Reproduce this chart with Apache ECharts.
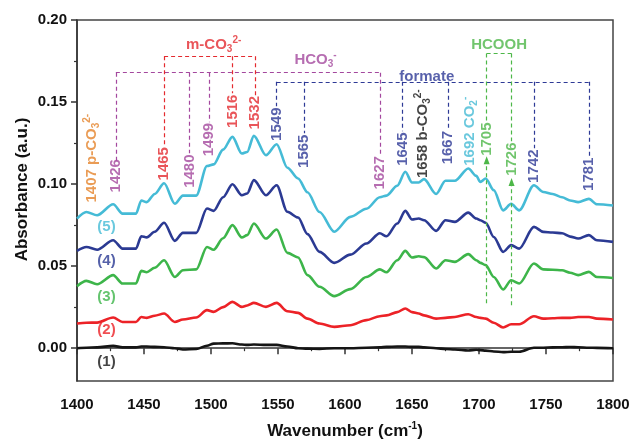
<!DOCTYPE html>
<html>
<head>
<meta charset="utf-8">
<script src="https://cdn.jsdelivr.net/npm/echarts@6/dist/echarts.min.js"></script>
<style>
  html, body { margin: 0; padding: 0; background: #fff; }
  #chart { width: 633px; height: 439px; }
</style>
</head>
<body>
<div id="chart"></div>
<script>
// wavenumber grid (cm-1) shared by all five spectra
const wavenumbers = [
  1400, 1407, 1415, 1427, 1434, 1444, 1448, 1452, 1458, 1465,
  1473, 1479, 1489, 1497, 1502, 1509, 1516, 1523, 1527, 1532,
  1541, 1549, 1557, 1565, 1572, 1581, 1592, 1604, 1616, 1626,
  1631, 1639, 1645, 1650, 1655, 1659, 1668, 1675, 1682, 1692,
  1698, 1701, 1705, 1711, 1718, 1724, 1730, 1741, 1748, 1755,
  1762, 1768, 1774, 1782, 1788, 1800,
];

const spec1 = [
  0, 0.0003, 0.0005, 0.0014, 0.0005, 0.0005, 0.001, 0.001, 0.0008, 0.0006,
  0, -0.0008, -0.0005, 0.0015, 0.0028, 0.0029, 0.003, 0.0022, 0.002, 0.0022,
  0.002, 0.002, 0.001, 0, -0.0003, -0.0004, 0, 0, 0.0003, 0.0005,
  0.0008, 0.001, 0.001, 0.0008, 0.0008, 0.0005, 0, -0.0005, -0.0008, -0.0014,
  -0.001, -0.0012, -0.0015, -0.002, -0.0024, -0.0022, -0.0022, 0.0003, 0.0003, 0.0005,
  0.0006, 0.0007, 0.0006, 0.0003, 0.0002, 0,
];
const spec2 = [
  0.015, 0.0155, 0.0156, 0.0187, 0.016, 0.016, 0.019, 0.0185, 0.0198, 0.0211,
  0.016, 0.0175, 0.0187, 0.0232, 0.0221, 0.025, 0.0282, 0.0252, 0.026, 0.0276,
  0.0252, 0.0276, 0.0225, 0.0215, 0.018, 0.015, 0.013, 0.014, 0.0171, 0.0195,
  0.020, 0.022, 0.0242, 0.022, 0.0211, 0.020, 0.018, 0.0185, 0.019, 0.0207,
  0.019, 0.0185, 0.018, 0.0155, 0.0126, 0.0146, 0.0146, 0.0195, 0.018, 0.0182,
  0.0185, 0.0185, 0.019, 0.019, 0.018, 0.0175,
];
const spec3 = [
  0.0378, 0.041, 0.039, 0.0445, 0.0394, 0.0394, 0.0471, 0.0463, 0.049, 0.0536,
  0.0434, 0.0475, 0.048, 0.0617, 0.060, 0.067, 0.075, 0.0675, 0.0689, 0.076,
  0.0668, 0.0723, 0.0581, 0.0553, 0.0445, 0.0374, 0.0317, 0.036, 0.0434, 0.048,
  0.0463, 0.0536, 0.0593, 0.0553, 0.056, 0.0555, 0.0486, 0.0536, 0.0526, 0.0573,
  0.0536, 0.052, 0.0506, 0.0434, 0.0358, 0.0414, 0.0394, 0.0516, 0.048, 0.0478,
  0.0475, 0.046, 0.0445, 0.0465, 0.0434, 0.0428,
];
const spec4 = [
  0.0593, 0.0617, 0.060, 0.0658, 0.0607, 0.0607, 0.0682, 0.0675, 0.071, 0.0764,
  0.0654, 0.0703, 0.0703, 0.0851, 0.0837, 0.092, 0.0999, 0.0932, 0.0943, 0.1024,
  0.0932, 0.0993, 0.0831, 0.0796, 0.0695, 0.0587, 0.052, 0.057, 0.0638, 0.070,
  0.0682, 0.076, 0.0837, 0.0784, 0.079, 0.078, 0.0715, 0.078, 0.077, 0.0826,
  0.079, 0.078, 0.0764, 0.0678, 0.0587, 0.0628, 0.0607, 0.0739, 0.0709, 0.0705,
  0.070, 0.068, 0.0668, 0.0689, 0.0658, 0.0648,
];
const spec5 = [
  0.079, 0.083, 0.081, 0.0877, 0.082, 0.082, 0.090, 0.089, 0.094, 0.1005,
  0.088, 0.093, 0.093, 0.111, 0.112, 0.121, 0.1288, 0.1186, 0.1196, 0.1294,
  0.1176, 0.1243, 0.110, 0.1034, 0.095, 0.083, 0.071, 0.080, 0.085, 0.092,
  0.093, 0.099, 0.1075, 0.101, 0.101, 0.103, 0.094, 0.102, 0.102, 0.1095,
  0.105, 0.1013, 0.1034, 0.0963, 0.084, 0.088, 0.084, 0.0993, 0.0952, 0.094,
  0.092, 0.090, 0.089, 0.091, 0.0877, 0.087,
];

const curveNames = ['(1)', '(2)', '(3)', '(4)', '(5)'];
const curveLabelX = 1422;
const curveLabelY = [-0.0083, 0.0114, 0.0313, 0.053, 0.0739];

// peak assignments (rotated labels)
const peakWn = [1411, 1429, 1465, 1484, 1498.5, 1516, 1533, 1549, 1569.6, 1626,
  1643, 1658, 1677, 1693, 1705.7, 1724.3, 1741.3, 1782.3];
const peakText = ['1407 p-CO{sub|3}{sup|2-}', '1426', '1465', '1480', '1499', '1516', '1532',
  '1549', '1565', '1627', '1645', '1658 b-CO{sub|3}{sup|2-}', '1667', '1692 CO{sub|2}{sup|-}',
  '1705', '1726', '1742', '1781'];
const peakGroup = ['p', 'hco3', 'm', 'hco3', 'hco3', 'm', 'm', 'formate', 'formate', 'hco3',
  'formate', 'b', 'formate', 'co2', 'hcooh', 'hcooh', 'formate', 'formate'];
const peakMid = [0.1158, 0.1051, 0.1124, 0.1079, 0.1271, 0.1444, 0.1435, 0.1365, 0.120, 0.1069,
  0.1213, 0.1307, 0.1222, 0.1322, 0.1274, 0.1152, 0.1109, 0.106];

// dashed brackets grouping the peaks
const bracketGroup = ['hco3', 'm', 'formate', 'hcooh'];
const bracketLevel = [0.1679, 0.1779, 0.1623, 0.1796];
const bracketPeaks = [
  [1429, 1484, 1498.5, 1626],
  [1465, 1516, 1533],
  [1549, 1569.6, 1643, 1677, 1741.3, 1782.3],
  [1705.7, 1724.3],
];
const bracketEnds = [
  [0.114, 0.1188, 0.1377, 0.1176],
  [0.1237, 0.1554, 0.1542],
  [0.1475, 0.131, 0.1322, 0.1328, 0.1219, 0.117],
  [0.1383, 0.1261],
];
const bracketTitle = ['HCO{sub|3}{sup|-}', 'm-CO{sub|3}{sup|2-}', 'formate', 'HCOOH'];
const bracketTitleX = [1578, 1502, 1661, 1715];
const bracketTitleY = [0.1755, 0.185, 0.1655, 0.185];

// HCOOH arrows
const arrowWn = [1705.7, 1724.3];
const arrowFrom = [0.0274, 0.0262];
const arrowTo = [0.1146, 0.1012];

const FONT = '"Liberation Sans", Arial, sans-serif';
const curveColors = ['#151515', '#EC2227', '#3DB54A', '#2B3A93', '#45BBD6'];
const groupColor = {
  p: '#E5832B', hco3: '#A4489E', m: '#E42A2F', formate: '#2E3A96',
  b: '#151515', co2: '#45BAD5', hcooh: '#4DB748',
};
const richSub = {
  sub: { fontSize: 10, fontWeight: 'bold', fontFamily: FONT, verticalAlign: 'bottom', lineHeight: 19 },
  sup: { fontSize: 10, fontWeight: 'bold', fontFamily: FONT, verticalAlign: 'top', lineHeight: 19 },
};

const chart = echarts.init(document.getElementById('chart'));

const spectra = [spec1, spec2, spec3, spec4, spec5];
const lineSeries = spectra.map((s, k) => ({
  name: curveNames[k],
  type: 'line',
  data: wavenumbers.map((w, i) => [w, s[i]]),
  showSymbol: false,
  symbol: 'none',
  smooth: 0.3,
  smoothMonotone: 'x',
  lineStyle: { width: 2.6, color: curveColors[k] },
  z: 3,
}));

function dashStyle(color) {
  return { type: [4, 3], width: 1.2, color: color };
}

const markLines = [];
bracketPeaks.forEach((xs, b) => {
  const c = groupColor[bracketGroup[b]];
  const lvl = bracketLevel[b];
  markLines.push([{ coord: [xs[0], lvl], lineStyle: dashStyle(c) }, { coord: [xs[xs.length - 1], lvl] }]);
  xs.forEach((x, j) => {
    markLines.push([{ coord: [x, lvl], lineStyle: dashStyle(c) }, { coord: [x, bracketEnds[b][j]] }]);
  });
});
arrowWn.forEach((x, j) => {
  markLines.push([
    { coord: [x, arrowFrom[j]], symbol: 'none', lineStyle: dashStyle(groupColor.hcooh) },
    { coord: [x, arrowTo[j]], symbol: 'triangle', symbolSize: [6, 8] },
  ]);
});

const annotationData = [];
peakWn.forEach((x, i) => {
  annotationData.push({
    value: [x, peakMid[i]],
    label: {
      formatter: peakText[i],
      rotate: 90,
      color: groupColor[peakGroup[i]],
    },
  });
});
bracketTitle.forEach((t, i) => {
  annotationData.push({
    value: [bracketTitleX[i], bracketTitleY[i]],
    label: {
      formatter: t,
      rotate: 0,
      color: groupColor[bracketGroup[i]],
    },
  });
});

const option = {
  animation: false,
  backgroundColor: '#fff',
  grid: {
    left: 77, right: 20, top: 20, bottom: 58,
    show: true, borderColor: '#444', borderWidth: 1.5,
    outerBoundsMode: 'none',
  },
  xAxis: {
    type: 'value',
    min: 1400, max: 1800, interval: 50,
    axisLine: { lineStyle: { color: '#333', width: 1.5 } },
    axisTick: { length: 6, lineStyle: { color: '#333', width: 1.5 } },
    minorTick: { show: true, splitNumber: 2, length: 3, lineStyle: { color: '#333', width: 1.2 } },
    axisLabel: {
      formatter: (v) => String(v),
      color: '#111', fontSize: 15, fontWeight: 'bold', fontFamily: FONT, margin: 16,
    },
    splitLine: { show: false },
    name: 'Wavenumber (cm{sup|-1})',
    nameLocation: 'middle',
    nameGap: 40,
    nameTextStyle: {
      color: '#111', fontSize: 17, fontWeight: 'bold', fontFamily: FONT, lineHeight: 20,
      rich: { sup: { fontSize: 10, fontWeight: 'bold', fontFamily: FONT, verticalAlign: 'top', lineHeight: 20 } },
    },
  },
  yAxis: [
    {
      type: 'value',
      min: -0.02, max: 0.2,
      axisLine: { show: true, lineStyle: { color: '#333', width: 1.5 } },
      axisTick: { show: true, length: 6, customValues: [0, 0.05, 0.1, 0.15, 0.2], lineStyle: { color: '#333', width: 1.5 } },
      axisLabel: {
        customValues: [0, 0.05, 0.1, 0.15, 0.2],
        formatter: (v) => v.toFixed(2),
        color: '#111', fontSize: 15, fontWeight: 'bold', fontFamily: FONT, margin: 10,
      },
      splitLine: { show: false },
      name: 'Absorbance (a.u.)',
      nameLocation: 'middle',
      nameGap: 46,
      nameMoveOverlap: false,
      nameTextStyle: { color: '#111', fontSize: 17, fontWeight: 'bold', fontFamily: FONT, padding: [0, 0, 0, 22] },
    },
    {
      type: 'value',
      position: 'left',
      min: -0.02, max: 0.2,
      axisLine: { show: false },
      axisTick: { show: true, length: 3, customValues: [0.025, 0.075, 0.125, 0.175], lineStyle: { color: '#333', width: 1.2 } },
      axisLabel: { show: false },
      splitLine: { show: false },
    },
  ],
  series: [
    ...lineSeries,
    {
      type: 'scatter',
      symbolSize: 1,
      itemStyle: { color: 'rgba(0,0,0,0)' },
      silent: true,
      data: curveNames.map((n, k) => ({
        value: [curveLabelX, curveLabelY[k]],
        label: { color: curveColors[k] },
      })),
      label: {
        show: true,
        position: 'inside',
        formatter: (p) => curveNames[p.dataIndex],
        fontSize: 15, fontWeight: 'bold', fontFamily: FONT,
      },
      z: 4,
    },
    {
      type: 'scatter',
      symbolSize: 1,
      itemStyle: { color: 'rgba(0,0,0,0)' },
      silent: true,
      data: annotationData,
      label: {
        show: true,
        position: 'inside',
        align: 'center',
        verticalAlign: 'middle',
        fontSize: 15, fontWeight: 'bold', fontFamily: FONT, lineHeight: 19,
        rich: richSub,
      },
      markLine: {
        silent: true,
        symbol: ['none', 'none'],
        label: { show: false },
        emphasis: { disabled: true },
        data: markLines,
      },
      z: 5,
    },
  ],
};

chart.setOption(option);
</script>
</body>
</html>
